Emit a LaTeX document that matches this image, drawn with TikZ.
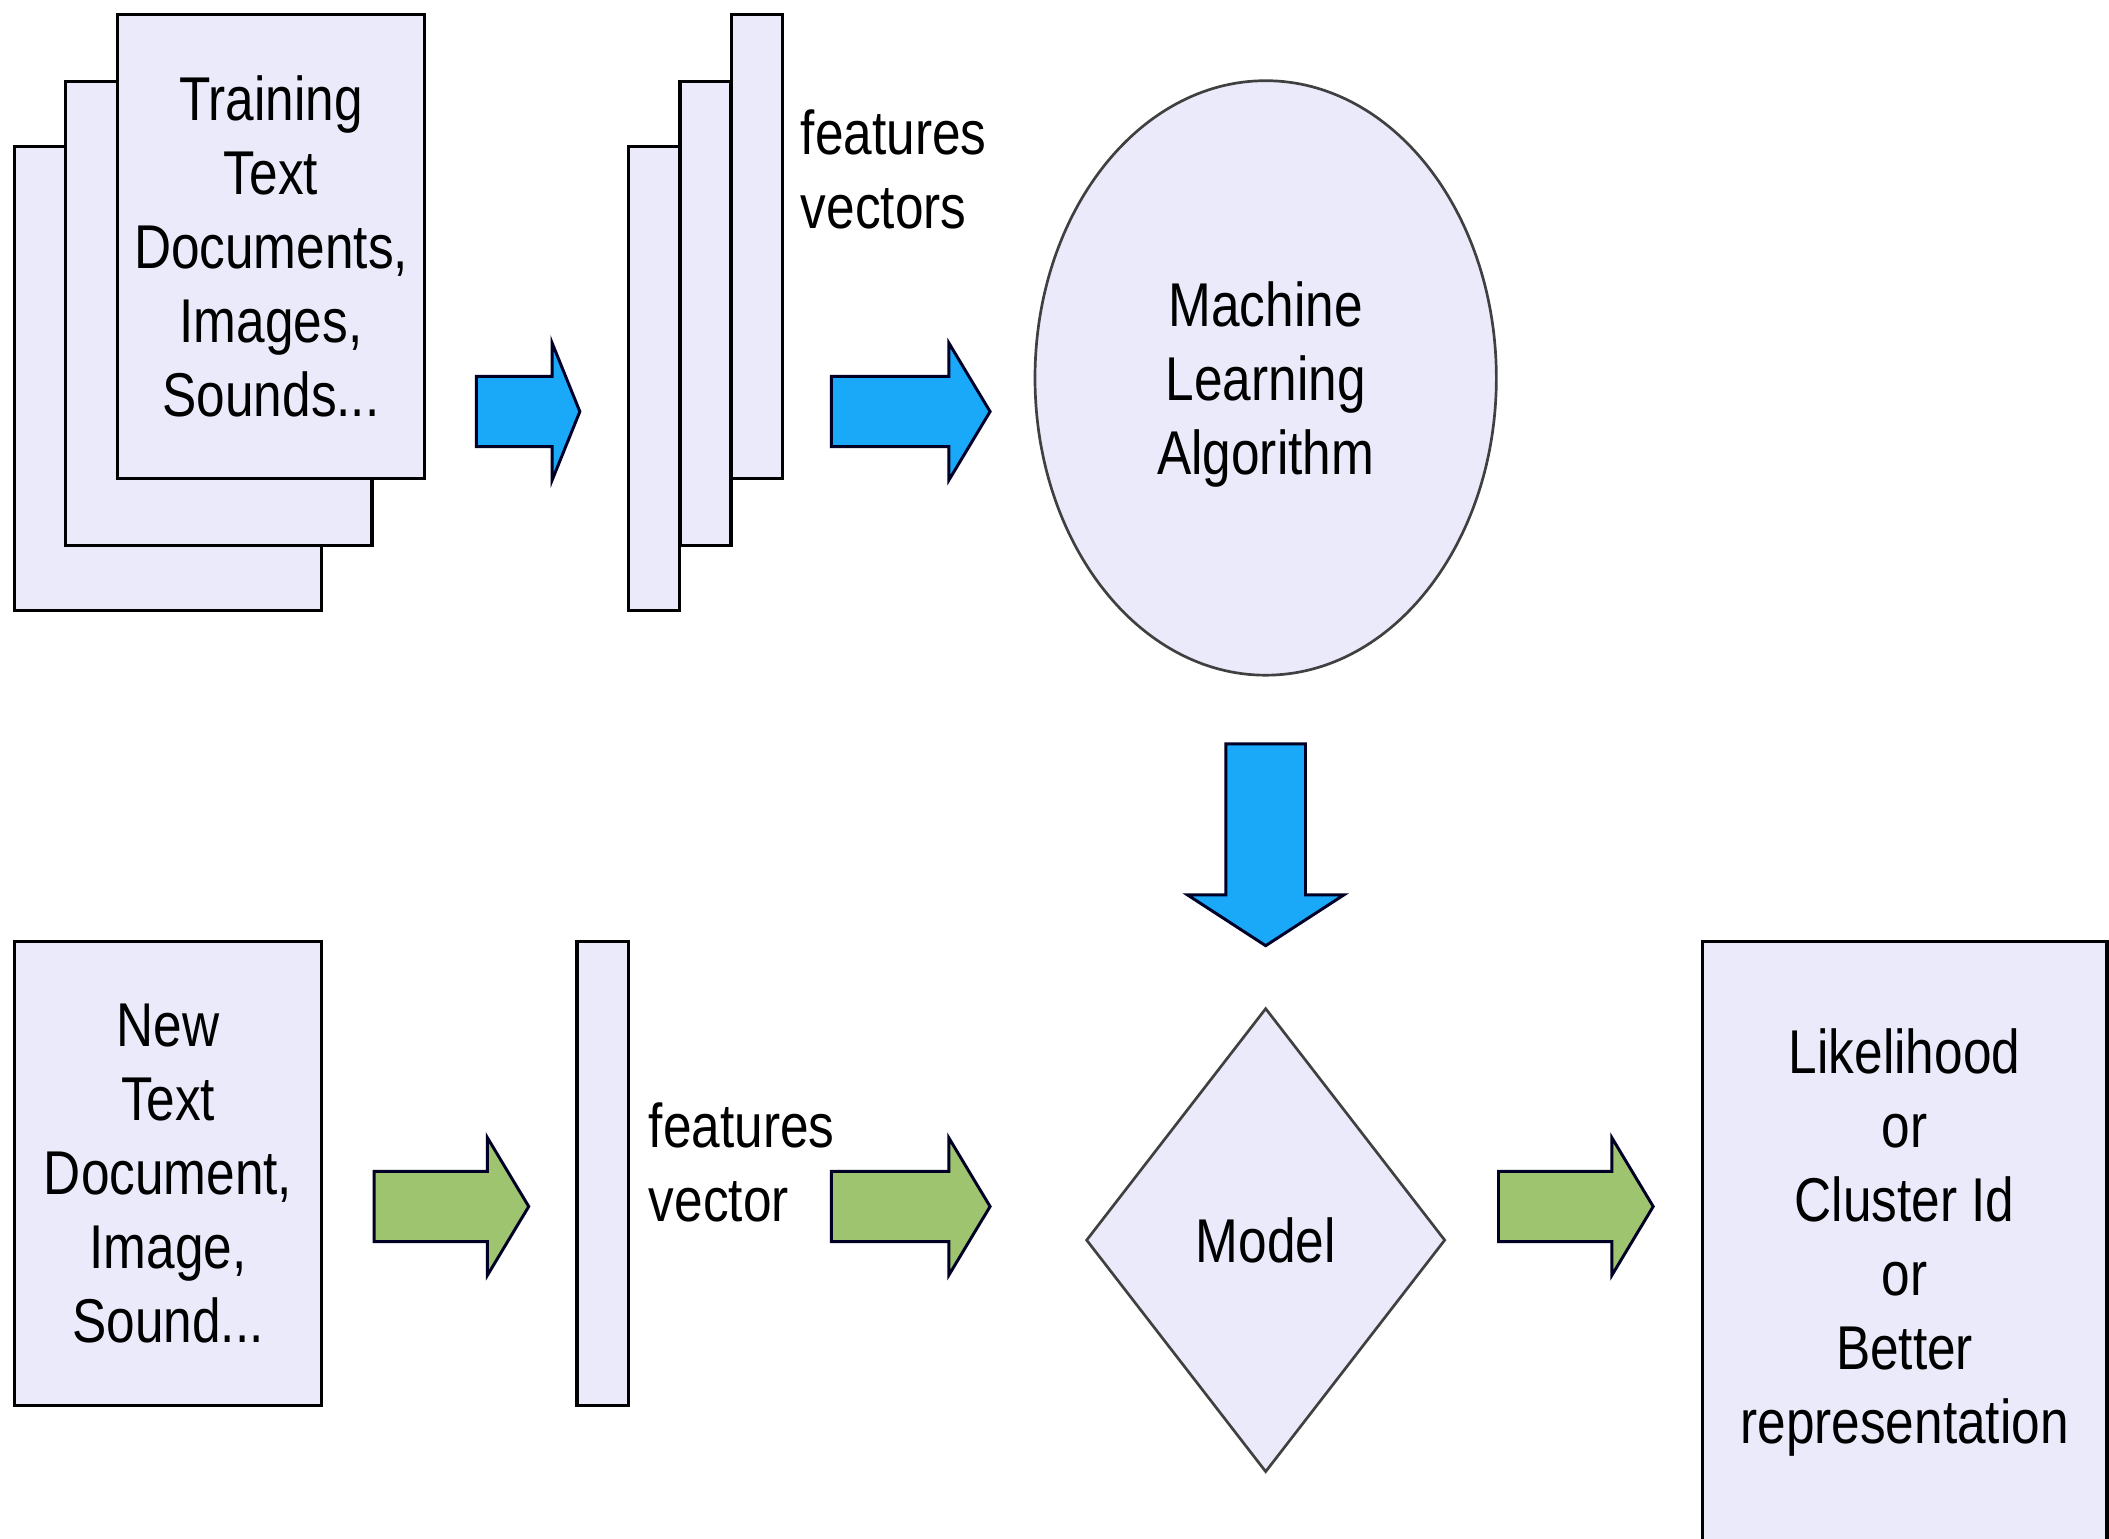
\documentclass[tikz,border=0pt]{standalone}
\usepackage{fontspec}
\setmainfont{Liberation Sans}[FakeStretch=0.83]
\usetikzlibrary{shapes.geometric,shapes.arrows}

\definecolor{paper}{RGB}{234,234,250}
\definecolor{trainblue}{RGB}{26,168,248}
\definecolor{applygreen}{RGB}{158,196,112}

\begin{document}
\begin{tikzpicture}[x=0.5pt, y=-0.5pt,
  txt/.style={font=\fontsize{23pt}{27.5pt}\selectfont, align=center, inner sep=0pt},
  sheet/.style={rectangle, draw, line width=1.2pt, fill=paper, minimum width=114pt, minimum height=172.5pt, txt},
  strip/.style={sheet, minimum width=19pt},
  fatarrow/.style={single arrow, anchor=tail, draw=black!85!blue, line width=1.1pt, inner xsep=0pt, inner ysep=12.5pt,
    text height=0pt, text depth=0pt, single arrow head extend=12.5pt, single arrow head indent=0pt,
    single arrow tip angle=118},
  train/.style={fatarrow, fill=trainblue},
  apply/.style={fatarrow, fill=applygreen},
]
\useasboundingbox (0,0) rectangle (1568,1144);
\clip (0,0) rectangle (1568,1144);

% === TRAINING ROW ===
\node[sheet] (doc3) at (125,281.5) {};
\node[sheet] (doc2) at (162.5,233) {};
\node[sheet] (doc1) at (201.5,183) {Training\\Text\\Documents,\\Images,\\Sounds...};

\node[strip] (vec3) at (486,281.5) {};
\node[strip] (vec2) at (524.5,233) {};
\node[strip] (vec1) at (563,183) {};
\node[txt, align=left, anchor=west] (vecs) at (595,126) {features\\vectors};

\node[ellipse, draw=black!75, line width=1pt, fill=paper, minimum width=171.5pt, minimum height=221pt, txt]
  (algo) at (941,281) {\raisebox{-3pt}[\height][\depth]{\begin{tabular}{@{}c@{}}Machine\\Learning\\Algorithm\end{tabular}}};

\node[train, minimum height=38.5pt, single arrow tip angle=136] (a1) at (353,306) {};
\node[train, minimum height=59pt] (a2) at (617,306) {};
\node[train, rotate=-90, minimum height=75pt, inner ysep=14.25pt, single arrow head extend=14.25pt,
  single arrow tip angle=114] (a3) at (941,552) {};

% === PREDICTION ROW ===
\node[sheet] (newdoc) at (125,872.5) {New\\Text\\Document,\\Image,\\Sound...};
\node[strip] (vec) at (448,872.5) {};
\node[txt, align=left, anchor=west] (vecone) at (482,864) {features\\vector};

\node[diamond, draw=black!75, line width=1pt, fill=paper, minimum width=133.5pt, minimum height=172.5pt, txt]
  (model) at (941,922) {Model};

\node[sheet, minimum width=150.5pt, minimum height=224pt] (result) at (1416,924)
  {Likelihood\\or\\Cluster Id\\or\\Better\\representation};

\node[apply, minimum height=57.5pt] (g1) at (277,897) {};
\node[apply, minimum height=59pt] (g2) at (617,897) {};
\node[apply, minimum height=57.5pt] (g3) at (1113,897) {};
\end{tikzpicture}
\end{document}
